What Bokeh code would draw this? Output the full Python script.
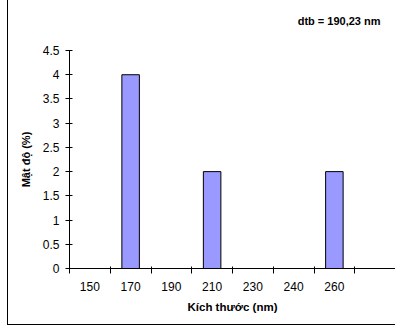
from bokeh.plotting import figure
from bokeh.models import Range1d, FixedTicker, Title, InlineStyleSheet
from bokeh.embed import file_html
from bokeh.resources import INLINE

categories = ["150", "170", "190", "210", "230", "240", "260"]
density = [0, 4, 0, 2, 0, 0, 2]
y_ticks = [0, 0.5, 1, 1.5, 2, 2.5, 3, 3.5, 4, 4.5]
y_tick_labels = ["0", "0.5", "1", "1.5", "2", "2.5", "3", "3.5", "4", "4.5"]
title_text = "dtb = 190,23 nm"
x_label = "Kích thước (nm)"
y_label = "Mật độ (%)"

FONT = "Liberation Sans"
n = len(categories)
centers = [i + 0.5 for i in range(n)]

p = figure(width=395, height=328, output_backend="svg", toolbar_location=None,
           x_range=Range1d(0, n + 1), y_range=Range1d(0, 4.5),
           min_border_left=69, min_border_right=0, min_border_top=50, min_border_bottom=60)
p.outline_line_color = None
p.grid.visible = False
p.background_fill_color = "white"
p.border_fill_color = "white"

# chart-area frame (left and bottom edges visible in the reference crop)
p.stylesheets = [InlineStyleSheet(css="""
:host { position: relative; }
:host::after {
  content: ""; position: absolute; left: 7px; top: 0px; right: 0px; height: 325px;
  border-left: 1.5px solid black; border-bottom: 1.5px solid black;
  box-sizing: border-box; pointer-events: none; z-index: 100;
}
""")]

xs = [c for c, v in zip(centers, density) if v > 0]
ys = [v for v in density if v > 0]
p.vbar(x=xs, top=ys, bottom=0, width=0.43, fill_color="#9999FF", line_color="black", line_width=1)

xa = p.xaxis[0]
xa.ticker = FixedTicker(ticks=centers, minor_ticks=list(range(0, n + 2)))
xa.major_label_overrides = {c: lab for c, lab in zip(centers, categories)}
xa.major_tick_in = 0
xa.major_tick_out = 0
xa.minor_tick_in = 2
xa.minor_tick_out = 5
xa.minor_tick_line_color = "black"
xa.axis_line_color = "black"
xa.major_label_text_font = FONT
xa.major_label_text_font_size = "12px"
xa.major_label_text_color = "black"
xa.major_label_standoff = 8
xa.axis_label = x_label
xa.axis_label_text_font = FONT
xa.axis_label_text_font_size = "11.5px"
xa.axis_label_text_font_style = "bold"
xa.axis_label_text_color = "black"
xa.axis_label_standoff = 7

ya = p.yaxis[0]
ya.ticker = FixedTicker(ticks=y_ticks, minor_ticks=[])
ya.major_label_overrides = {t: lab for t, lab in zip(y_ticks, y_tick_labels)}
ya.major_tick_in = 3
ya.major_tick_out = 4
ya.major_tick_line_color = "black"
ya.axis_line_color = "black"
ya.major_label_text_font = FONT
ya.major_label_text_font_size = "12px"
ya.major_label_text_color = "black"
ya.major_label_standoff = 6
ya.axis_label = y_label
ya.axis_label_text_font = FONT
ya.axis_label_text_font_size = "11px"
ya.axis_label_text_font_style = "bold"
ya.axis_label_text_color = "black"
ya.axis_label_standoff = 8

# spacer between the plot area and the annotation text
p.add_layout(Title(text=" ", text_font_size="1px", standoff=10), "above")
p.add_layout(Title(text=title_text, align="right", offset=15, standoff=21, text_font=FONT,
                   text_font_size="11px", text_font_style="bold", text_color="black"), "above")

open("out.html", "w").write(file_html(p, INLINE))
